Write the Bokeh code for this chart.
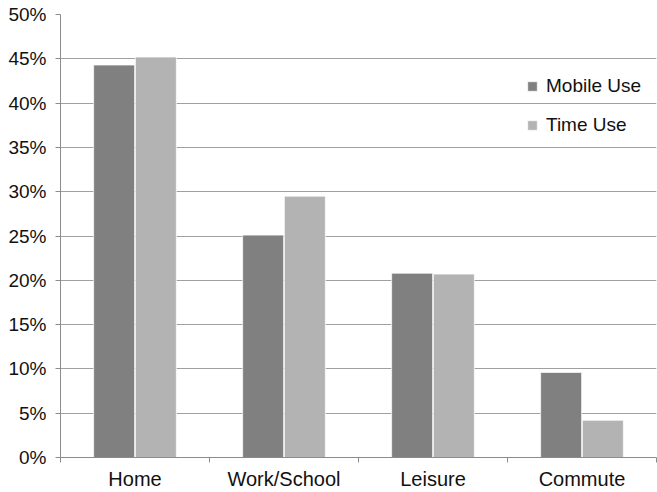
from bokeh.plotting import figure
from bokeh.models import ColumnDataSource, FixedTicker, NumeralTickFormatter, Range1d, Legend, LegendItem
from bokeh.transform import dodge
from bokeh.embed import file_html
from bokeh.resources import INLINE

# Share of mobile use vs. share of time, by location
categories = ["Home", "Work/School", "Leisure", "Commute"]
mobile_use = [0.443, 0.251, 0.208, 0.096]
time_use = [0.452, 0.295, 0.207, 0.042]
y_ticks = [0.0, 0.05, 0.10, 0.15, 0.20, 0.25, 0.30, 0.35, 0.40, 0.45, 0.50]

FONT = "Liberation Sans"
DARK = "#808080"
LIGHT = "#b3b3b3"
GRID = "#a0a0a0"
TEXT = "#111111"

n = len(categories)
centers = [i + 0.5 for i in range(n)]
source = ColumnDataSource(dict(x=centers, cat=categories, mobile=mobile_use, time=time_use))

p = figure(
    width=657, height=492,
    x_range=Range1d(0, n), y_range=Range1d(0, 0.5),
    output_backend="svg", toolbar_location=None,
    min_border_left=60, min_border_right=1, min_border_top=14, min_border_bottom=34,
)
p.outline_line_color = None
p.background_fill_color = "white"

bar_w = 0.275
r_mobile = p.vbar(x=dodge("x", -0.14, range=p.x_range), top="mobile", width=bar_w,
                  source=source, fill_color=DARK, line_color="white", line_alpha=0.7)
r_time = p.vbar(x=dodge("x", 0.14, range=p.x_range), top="time", width=bar_w,
                source=source, fill_color=LIGHT, line_color="white", line_alpha=0.7)

# Y axis: percentages with outward ticks
yax = p.yaxis[0]
yax.ticker = FixedTicker(ticks=y_ticks)
yax.formatter = NumeralTickFormatter(format="0%")
yax.axis_line_color = "#8c8c8c"
yax.major_tick_line_color = "#8c8c8c"
yax.major_tick_out = 5
yax.major_tick_in = 0
yax.minor_tick_line_color = None
yax.major_label_standoff = 9
yax.major_label_text_font = FONT
yax.major_label_text_font_size = "19px"
yax.major_label_text_color = TEXT

# X axis: labels at category centres, tick marks at category boundaries
xax = p.xaxis[0]
xax.ticker = FixedTicker(ticks=centers, minor_ticks=list(range(n + 1)))
xax.major_label_overrides = {c: lab for c, lab in zip(centers, categories)}
xax.major_tick_line_color = None
xax.major_tick_out = 0
xax.major_tick_in = 0
xax.minor_tick_line_color = "#8c8c8c"
xax.minor_tick_out = 5
xax.minor_tick_in = 0
xax.axis_line_color = "#8c8c8c"
xax.major_label_standoff = 5
xax.major_label_text_font = FONT
xax.major_label_text_font_size = "20px"
xax.major_label_text_color = TEXT

p.xgrid.grid_line_color = None
p.ygrid.grid_line_color = GRID
p.ygrid.grid_line_width = 1

legend = Legend(
    items=[LegendItem(label="Mobile Use", renderers=[r_mobile]),
           LegendItem(label="Time Use", renderers=[r_time])],
    location=(466, 321),
    background_fill_alpha=0, border_line_color=None,
    padding=0, margin=0, spacing=17,
    glyph_width=12, glyph_height=12, label_height=20,
    label_standoff=8,
    label_text_font=FONT, label_text_font_size="19px", label_text_color=TEXT,
)
p.add_layout(legend)

open("out.html", "w").write(file_html(p, INLINE))
